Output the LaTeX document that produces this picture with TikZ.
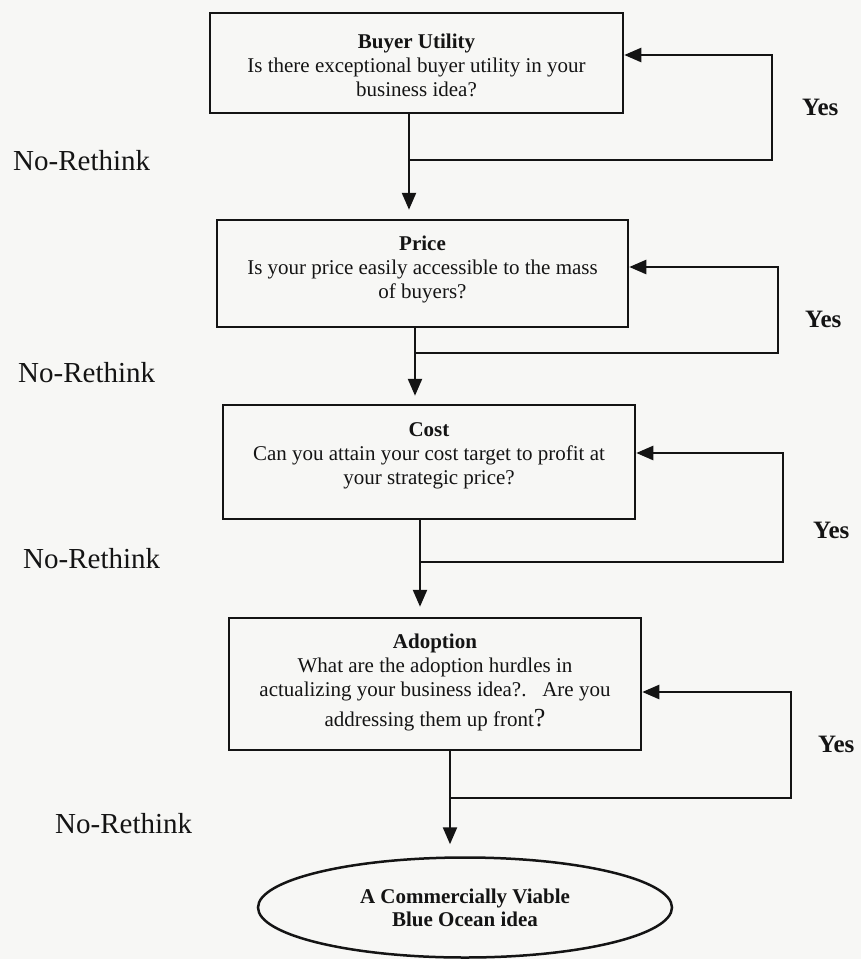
\documentclass[tikz,border=0pt]{standalone}
\usepackage{fontspec}
\setmainfont{Liberation Serif}
\usetikzlibrary{arrows.meta,shapes.geometric}
\definecolor{paper}{RGB}{247,247,245}
\definecolor{ink}{RGB}{20,20,20}
\begin{document}
\begin{tikzpicture}[x=1pt,y=-1pt, color=ink,
  box/.style={draw, line width=2.5pt, rectangle, inner sep=0pt},
  boxtxt/.style={align=center, inner sep=0pt, font=\fontsize{21}{24}\selectfont},
  conn/.style={line width=2.4pt},
  arr/.style={conn, -{Triangle[length=17pt,width=14pt]}},
  nolabel/.style={anchor=base west, inner sep=0pt, font=\fontsize{29}{34}\selectfont},
  yeslabel/.style={anchor=base west, inner sep=0pt, font=\bfseries\fontsize{25}{30}\selectfont},
  endnode/.style={draw, ellipse, line width=2.5pt, inner sep=0pt, align=center,
    font=\bfseries\fontsize{21}{23}\selectfont}
]
\useasboundingbox (0,0) rectangle (861,959);
\fill[paper] (0,0) rectangle (861,959);

% boxes
\node[box, minimum width=413pt, minimum height=100pt] (b1) at (416.5,63) {};
\node[box, minimum width=411pt, minimum height=107pt] (b2) at (422.5,273.5) {};
\node[box, minimum width=412pt, minimum height=114pt] (b3) at (429,462) {};
\node[box, minimum width=412pt, minimum height=132pt] (b4) at (435,684) {};

% box texts
\node[boxtxt] (t1) at (416.5,65) {\textbf{Buyer Utility}\\Is there exceptional buyer utility in your\\business idea?};
\node[boxtxt] (t2) at (422.5,269.5) {\textbf{Price}\\Is your price easily accessible to the mass\\of buyers?};
\node[boxtxt] (t3) at (429,456) {\textbf{Cost}\\Can you attain your cost target to profit at\\your strategic price?};
\node[boxtxt] (t4) at (435,682.5) {\textbf{Adoption}\\What are the adoption hurdles in\\actualizing your business idea?.\ \ \ Are you\\[6pt]addressing them up front{\fontsize{26}{30}\selectfont ?}};

% final ellipse
\node[endnode, minimum width=414pt, minimum height=100pt] (el) at (465,907.5) {A Commercially Viable\\Blue Ocean idea};

% main downward arrows
\coordinate (x1) at (409,0);
\coordinate (x2) at (415,0);
\coordinate (x3) at (420,0);
\coordinate (x4) at (450,0);
\draw[arr, shorten >=9pt]  (x1 |- b1.south) -- (x1 |- b2.north);
\draw[arr, shorten >=8pt]  (x2 |- b2.south) -- (x2 |- b3.north);
\draw[arr, shorten >=10pt] (x3 |- b3.south) -- (x3 |- b4.north);
\draw[arr, shorten >=12pt] (x4 |- b4.south) -- (x4 |- el.north);

% feedback loops
\coordinate (j1) at (409,160); \coordinate (c1) at (772,160); \coordinate (d1) at (772,55);
\coordinate (j2) at (415,353); \coordinate (c2) at (778,353); \coordinate (d2) at (778,267);
\coordinate (j3) at (420,562); \coordinate (c3) at (783,562); \coordinate (d3) at (783,453);
\coordinate (j4) at (450,798); \coordinate (c4) at (791,798); \coordinate (d4) at (791,692);
\draw[arr] (j1) -- (c1) -- (d1) -- (d1 -| b1.east);
\draw[arr] (j2) -- (c2) -- (d2) -- (d2 -| b2.east);
\draw[arr] (j3) -- (c3) -- (d3) -- (d3 -| b3.east);
\draw[arr] (j4) -- (c4) -- (d4) -- (d4 -| b4.east);

% labels
\node[nolabel] (n1) at (13,170) {No-Rethink};
\node[nolabel] (n2) at (18,382) {No-Rethink};
\node[nolabel] (n3) at (23,568) {No-Rethink};
\node[nolabel] (n4) at (55,833) {No-Rethink};
\node[yeslabel] (y1) at (802,115) {Yes};
\node[yeslabel] (y2) at (805,327) {Yes};
\node[yeslabel] (y3) at (813,538) {Yes};
\node[yeslabel] (y4) at (818,752) {Yes};
\end{tikzpicture}
\end{document}
